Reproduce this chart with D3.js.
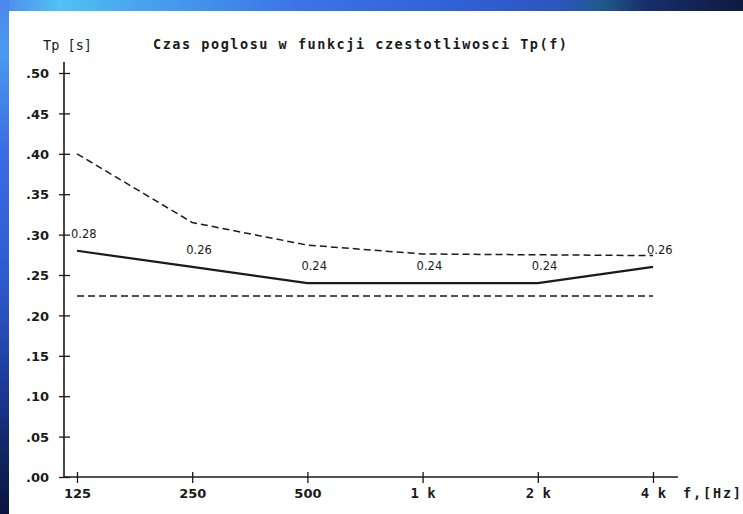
<!DOCTYPE html>
<html>
<head>
<meta charset="utf-8">
<script src="https://cdn.jsdelivr.net/npm/d3@7"></script>
<style>
  html, body { margin: 0; padding: 0; background: #ffffff; }
  svg { display: block; }
</style>
</head>
<body>
<svg id="chart" width="743" height="514"></svg>
<script>
// Octave-band centre frequencies
const categories = ["125", "250", "500", "1k", "2k", "4k"];
const xTickLabels = ["125", "250", "500", "1 k", "2 k", "4 k"];

// Measured reverberation time Tp [s]
const measured = [0.28, 0.26, 0.24, 0.24, 0.24, 0.26];
// Upper tolerance limit
const upperLimit = [0.40, 0.315, 0.287, 0.276, 0.275, 0.274];
// Lower tolerance limit
const lowerLimit = [0.224, 0.224, 0.224, 0.224, 0.224, 0.224];

const yTickValues = [0, 0.05, 0.10, 0.15, 0.20, 0.25, 0.30, 0.35, 0.40, 0.45, 0.50];
const yTickLabels = [".00", ".05", ".10", ".15", ".20", ".25", ".30", ".35", ".40", ".45", ".50"];

const svg = d3.select("#chart");
const W = 743, H = 514;

// Frame gradients
const defs = svg.append("defs");
const gTop = defs.append("linearGradient").attr("id", "gTop")
  .attr("x1", 0).attr("y1", 0).attr("x2", 1).attr("y2", 0);
[[0, "#4e86ee"], [0.08, "#50c2f4"], [0.18, "#48a6f0"], [0.4, "#3c74e8"],
 [0.62, "#3160d6"], [0.76, "#2a56bc"], [0.81, "#1f5a8a"], [0.87, "#182e6c"], [1, "#0e1a40"]]
  .forEach(([o, c]) => gTop.append("stop").attr("offset", o).attr("stop-color", c));
const gLeft = defs.append("linearGradient").attr("id", "gLeft")
  .attr("x1", 0).attr("y1", 0).attr("x2", 0).attr("y2", 1);
[[0, "#4e86ee"], [0.1, "#4a9af0"], [0.3, "#3a6ce4"], [0.55, "#2e5ad0"],
 [0.75, "#1c3a98"], [0.9, "#10225a"], [1, "#0a1640"]]
  .forEach(([o, c]) => gLeft.append("stop").attr("offset", o).attr("stop-color", c));

svg.append("rect").attr("x", 0).attr("y", 0).attr("width", W).attr("height", 11).attr("fill", "url(#gTop)");
svg.append("rect").attr("x", 0).attr("y", 0).attr("width", 9).attr("height", H).attr("fill", "url(#gLeft)");
svg.append("rect").attr("x", 9).attr("y", 11).attr("width", W - 9).attr("height", H - 11).attr("fill", "#ffffff");

// Scales
const x = d3.scalePoint().domain(categories).range([77, 653]);
const y = d3.scaleLinear().domain([0, 0.5]).range([477, 73]);
const axisX0 = 64;

const ink = "#1a1a1a";

// Y axis
const yAxis = svg.append("g").attr("transform", `translate(${axisX0},0)`)
  .call(d3.axisLeft(y).tickValues(yTickValues).tickSize(5)
    .tickFormat((d, i) => yTickLabels[i]));
yAxis.select(".domain").remove();
yAxis.selectAll(".tick line").attr("x1", -5).attr("x2", 6).attr("stroke", ink).attr("stroke-width", 1.3);
yAxis.selectAll(".tick text")
  .attr("x", -15).attr("dy", "0.36em")
  .attr("font-family", "'DejaVu Sans', sans-serif").attr("font-weight", "bold")
  .attr("font-size", 13).attr("fill", ink);
svg.append("line").attr("x1", axisX0).attr("x2", axisX0).attr("y1", 62).attr("y2", y(0))
  .attr("stroke", ink).attr("stroke-width", 1.6);

// X axis
const xAxis = svg.append("g").attr("transform", `translate(0,${y(0)})`)
  .call(d3.axisBottom(x).tickSize(5).tickFormat((d, i) => xTickLabels[i]));
xAxis.select(".domain").remove();
xAxis.selectAll(".tick line").attr("y1", -5).attr("y2", 6).attr("stroke", ink).attr("stroke-width", 1.3);
xAxis.selectAll(".tick text")
  .attr("y", 21).attr("dy", 0)
  .attr("font-family", d => d.endsWith("k")
    ? "'DejaVu Sans Mono', monospace" : "'DejaVu Sans', sans-serif")
  .attr("font-weight", "bold")
  .attr("font-size", d => d.endsWith("k") ? 14 : 13).attr("fill", ink)
  .attr("xml:space", "preserve");
svg.append("line").attr("x1", axisX0).attr("x2", 678).attr("y1", y(0)).attr("y2", y(0))
  .attr("stroke", ink).attr("stroke-width", 1.6);

// Axis titles and chart title
svg.append("text").attr("x", 43).attr("y", 50)
  .attr("font-family", "'DejaVu Sans Mono', monospace").attr("font-size", 13.5)
  .attr("fill", ink).attr("textLength", 49).attr("lengthAdjust", "spacing")
  .attr("xml:space", "preserve").text("Tp [s]");
svg.append("text").attr("x", 153).attr("y", 49)
  .attr("font-family", "'DejaVu Sans Mono', monospace").attr("font-weight", "bold")
  .attr("font-size", 13.5).attr("fill", ink)
  .attr("textLength", 414).attr("lengthAdjust", "spacing")
  .text("Czas poglosu w funkcji czestotliwosci Tp(f)");
svg.append("text").attr("x", 683).attr("y", 498)
  .attr("font-family", "'DejaVu Sans Mono', monospace").attr("font-weight", "bold")
  .attr("font-size", 13.5).attr("fill", ink)
  .attr("textLength", 58).attr("lengthAdjust", "spacing")
  .text("f,[Hz]");

// Series
const line = d3.line().x((d, i) => x(categories[i])).y(d => y(d));

svg.append("path").datum(upperLimit).attr("d", line)
  .attr("fill", "none").attr("stroke", ink).attr("stroke-width", 1.5)
  .attr("stroke-dasharray", "7,4");
svg.append("path").datum(lowerLimit).attr("d", line)
  .attr("fill", "none").attr("stroke", ink).attr("stroke-width", 1.5)
  .attr("stroke-dasharray", "7,4");
svg.append("path").datum(measured).attr("d", line)
  .attr("fill", "none").attr("stroke", ink).attr("stroke-width", 2.2);

// Value labels
svg.append("g").selectAll("text").data(measured).join("text")
  .attr("x", (d, i) => x(categories[i]) - 6)
  .attr("y", d => y(d) - 13)
  .attr("font-family", "'DejaVu Sans', sans-serif").attr("font-size", 11.5)
  .attr("fill", ink)
  .text(d => d.toFixed(2));
</script>
</body>
</html>
